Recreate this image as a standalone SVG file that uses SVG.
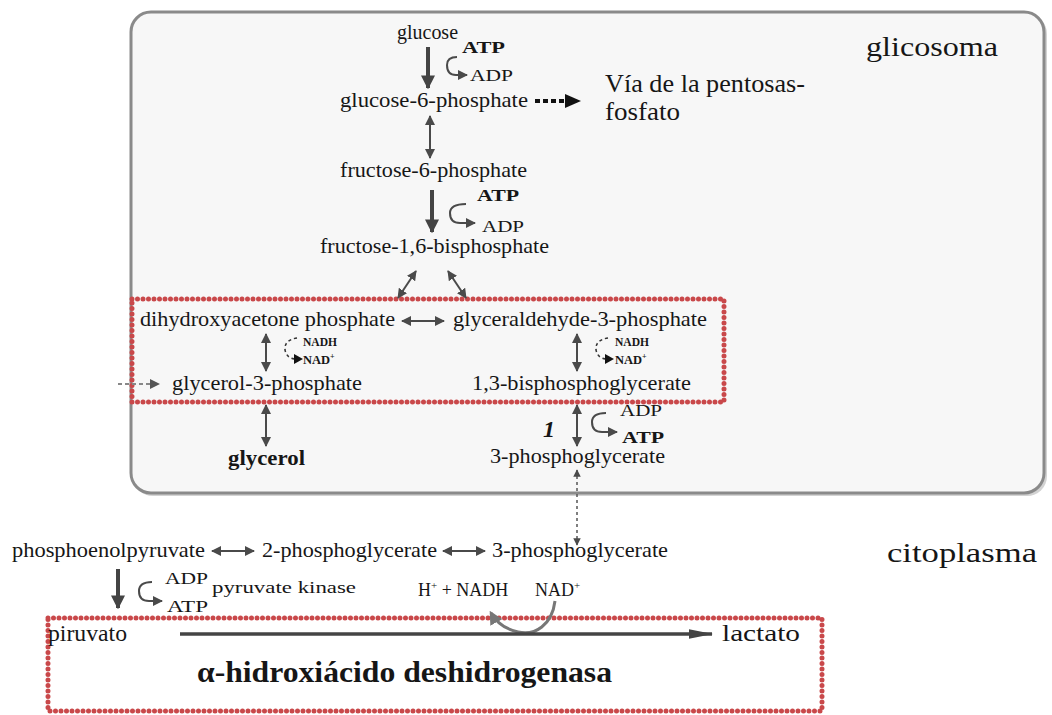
<svg xmlns="http://www.w3.org/2000/svg" width="1052" height="715" viewBox="0 0 1052 715">
<defs>
<style>
text{font-family:"Liberation Serif","Times New Roman",serif;fill:#161616}
.m{font-size:21px}
.s{font-size:16px}
.b{font-weight:bold}
.n{font-size:12.5px;font-weight:bold}
.big{font-size:28px}
.arr{stroke:#4a4a4a;stroke-width:2;fill:none}
.thick{stroke:#444;stroke-width:4;fill:none}
.red{fill:none;stroke:#c9484a;stroke-width:5;stroke-dasharray:0 5.5;stroke-linecap:round}
.dash{stroke:#333;stroke-width:1.5;fill:none;stroke-dasharray:3 3}
</style>
<marker id="h" viewBox="0 0 10 10" refX="9" refY="5" markerWidth="5" markerHeight="5" orient="auto-start-reverse" markerUnits="strokeWidth"><path d="M0,0L10,5L0,10z" fill="#4a4a4a"/></marker>
<marker id="hk" viewBox="0 0 10 10" refX="9" refY="5" markerWidth="3.5" markerHeight="3.5" orient="auto-start-reverse" markerUnits="strokeWidth"><path d="M0,0L10,5L0,10z" fill="#444"/></marker>
<marker id="hl" viewBox="0 0 20 10" refX="19" refY="5" markerWidth="7" markerHeight="3.5" orient="auto" markerUnits="strokeWidth"><path d="M0,1L20,5L0,9z" fill="#444"/></marker>
<marker id="hg" viewBox="0 0 10 10" refX="8" refY="5" markerWidth="4.5" markerHeight="4.5" orient="auto" markerUnits="strokeWidth"><path d="M0,0L10,5L0,10z" fill="#777"/></marker>
</defs>
<rect width="1052" height="715" fill="#fff"/>
<g id="glicosoma-box">
<rect x="133" y="14" width="914" height="482" rx="20" fill="#a8a8a8" opacity="0.5"/>
<rect x="131" y="12" width="913" height="481" rx="20" fill="#f7f7f7" stroke="#8a8a8a" stroke-width="3"/>
</g>
<g id="labels-compartments">
<text class="big" x="866" y="56" textLength="132" lengthAdjust="spacingAndGlyphs">glicosoma</text>
<text class="big" x="887" y="562" textLength="150" lengthAdjust="spacingAndGlyphs">citoplasma</text>
</g>
<g id="box-triose"><rect class="red" x="132" y="299" width="592" height="103"/></g>
<g id="box-ldh"><rect class="red" x="48" y="618" width="774" height="93"/></g>
<g id="connectors">
<line class="thick" x1="428" y1="47" x2="428" y2="88" marker-end="url(#hk)"/>
<path class="arr" d="M457,57 Q447,57 447,65 Q447,75 456,75 L467,75" marker-end="url(#h)"/>
<line stroke="#111" stroke-width="4" stroke-dasharray="5 3" x1="535" y1="101" x2="568" y2="101"/>
<path d="M565,94L581,101L565,108z" fill="#111"/>
<line class="arr" x1="430" y1="116" x2="430" y2="158" marker-start="url(#h)" marker-end="url(#h)"/>
<line class="thick" x1="432" y1="190" x2="432" y2="232" marker-end="url(#hk)"/>
<path class="arr" d="M466,204 Q450,204 450,213 Q450,223 460,223 L475,223" marker-end="url(#h)"/>
<line class="arr" x1="416" y1="271" x2="398" y2="298" marker-start="url(#h)" marker-end="url(#h)"/>
<line class="arr" x1="448" y1="271" x2="466" y2="298" marker-start="url(#h)" marker-end="url(#h)"/>
<line class="arr" x1="402" y1="321" x2="444" y2="321" marker-start="url(#h)" marker-end="url(#h)"/>
<line class="arr" x1="266" y1="334" x2="266" y2="371" marker-start="url(#h)" marker-end="url(#h)"/>
<path class="dash" d="M297,338 Q284,340 285,350 Q287,359 296,359"/>
<path d="M294,354L303,359L294,364z" fill="#111"/>
<line class="arr" x1="577" y1="334" x2="577" y2="371" marker-start="url(#h)" marker-end="url(#h)"/>
<path class="dash" d="M608,338 Q595,340 596,350 Q598,359 607,359"/>
<path d="M605,354L614,359L605,364z" fill="#111"/>
<line stroke="#888" stroke-width="2" stroke-dasharray="4 3" x1="118" y1="384" x2="152" y2="384"/>
<path d="M150,379L160,384L150,389z" fill="#555"/>
<line class="arr" x1="266" y1="405" x2="266" y2="446" marker-start="url(#h)" marker-end="url(#h)"/>
<line class="arr" x1="577" y1="405" x2="577" y2="446" marker-start="url(#h)" marker-end="url(#h)"/>
<path class="arr" d="M606,413 Q592,413 592,422 Q592,432 602,432 L617,432" marker-end="url(#h)"/>
<line stroke="#555" stroke-width="1.5" stroke-dasharray="3 3" x1="577" y1="470" x2="577" y2="545" marker-start="url(#h)" marker-end="url(#h)"/>
<line class="arr" x1="212" y1="551" x2="254" y2="551" marker-start="url(#h)" marker-end="url(#h)"/>
<line class="arr" x1="443" y1="551" x2="485" y2="551" marker-start="url(#h)" marker-end="url(#h)"/>
<line class="thick" x1="118" y1="569" x2="118" y2="608" marker-end="url(#hk)"/>
<path class="arr" d="M152,582 Q139,582 139,591 Q139,601 149,601 L162,601" marker-end="url(#h)"/>
<path stroke="#777" stroke-width="3" fill="none" d="M555,601 C552,625 535,636 518,632 C505,629 496,622 491,613" marker-end="url(#hg)"/>
<line stroke="#444" stroke-width="3.5" x1="180" y1="634" x2="712" y2="634" marker-end="url(#hl)"/>
</g>
<g id="n-glucose"><text class="m" x="397" y="39" textLength="61" lengthAdjust="spacingAndGlyphs">glucose</text>
<text class="s b" x="462" y="53" textLength="43" lengthAdjust="spacingAndGlyphs">ATP</text>
<text class="s" x="470" y="81" textLength="43" lengthAdjust="spacingAndGlyphs">ADP</text></g>
<g id="n-g6p"><text class="m" x="340" y="107" textLength="188" lengthAdjust="spacingAndGlyphs">glucose-6-phosphate</text></g>
<g id="n-pentosas"><text style="font-size:26px" x="605" y="92" textLength="200" lengthAdjust="spacingAndGlyphs">Vía de la pentosas-</text>
<text style="font-size:26px" x="605" y="120" textLength="75" lengthAdjust="spacingAndGlyphs">fosfato</text></g>
<g id="n-f6p"><text class="m" x="340" y="177" textLength="187" lengthAdjust="spacingAndGlyphs">fructose-6-phosphate</text>
<text class="s b" x="477" y="201" textLength="42" lengthAdjust="spacingAndGlyphs">ATP</text>
<text class="s" x="482" y="232" textLength="42" lengthAdjust="spacingAndGlyphs">ADP</text></g>
<g id="n-f16bp"><text class="m" x="320" y="253" textLength="229" lengthAdjust="spacingAndGlyphs">fructose-1,6-bisphosphate</text></g>
<g id="n-dhap"><text class="m" x="140" y="326" textLength="255" lengthAdjust="spacingAndGlyphs">dihydroxyacetone phosphate</text>
<text class="n" x="303" y="346" textLength="34" lengthAdjust="spacingAndGlyphs">NADH</text>
<text class="n" x="303" y="364">NAD<tspan dy="-5" font-size="8">+</tspan></text></g>
<g id="n-gap"><text class="m" x="453" y="326" textLength="254" lengthAdjust="spacingAndGlyphs">glyceraldehyde-3-phosphate</text>
<text class="n" x="615" y="346" textLength="34" lengthAdjust="spacingAndGlyphs">NADH</text>
<text class="n" x="615" y="364">NAD<tspan dy="-5" font-size="8">+</tspan></text></g>
<g id="n-g3p"><text class="m" x="172" y="390" textLength="190" lengthAdjust="spacingAndGlyphs">glycerol-3-phosphate</text></g>
<g id="n-13bpg"><text class="m" x="472" y="390" textLength="219" lengthAdjust="spacingAndGlyphs">1,3-bisphosphoglycerate</text></g>
<g id="n-glycerol"><text class="m b" x="228" y="465" textLength="77" lengthAdjust="spacingAndGlyphs">glycerol</text></g>
<g id="n-3pg-in"><text style="font-size:24px;font-weight:bold;font-style:italic" x="543" y="437">1</text>
<text class="s" x="620" y="416" textLength="42" lengthAdjust="spacingAndGlyphs">ADP</text>
<text class="s b" x="622" y="443" textLength="42" lengthAdjust="spacingAndGlyphs">ATP</text>
<text class="m" x="490" y="463" textLength="175" lengthAdjust="spacingAndGlyphs">3-phosphoglycerate</text></g>
<g id="n-pep"><text class="m" x="12" y="557" textLength="193" lengthAdjust="spacingAndGlyphs">phosphoenolpyruvate</text>
<text class="s" x="165" y="584" textLength="43" lengthAdjust="spacingAndGlyphs">ADP</text>
<text class="s" x="167" y="612" textLength="41" lengthAdjust="spacingAndGlyphs">ATP</text>
<text class="s" x="212" y="593" textLength="144" lengthAdjust="spacingAndGlyphs">pyruvate kinase</text></g>
<g id="n-2pg"><text class="m" x="262" y="557" textLength="175" lengthAdjust="spacingAndGlyphs">2-phosphoglycerate</text></g>
<g id="n-3pg-out"><text class="m" x="492" y="557" textLength="176" lengthAdjust="spacingAndGlyphs">3-phosphoglycerate</text></g>
<g id="n-nadh"><text style="font-size:18px" x="418" y="596">H<tspan dy="-7" font-size="11">+</tspan><tspan dy="7"> + NADH</tspan></text>
<text style="font-size:18px" x="535" y="596">NAD<tspan dy="-7" font-size="11">+</tspan></text></g>
<g id="n-piruvato"><text style="font-size:24px" x="48" y="641" textLength="79" lengthAdjust="spacingAndGlyphs">piruvato</text></g>
<g id="n-lactato"><text style="font-size:24px" x="722" y="641" textLength="78" lengthAdjust="spacingAndGlyphs">lactato</text></g>
<g id="n-enzyme"><text style="font-size:30px;font-weight:bold" x="197" y="682" textLength="415" lengthAdjust="spacingAndGlyphs">α-hidroxiácido deshidrogenasa</text></g>
</svg>
